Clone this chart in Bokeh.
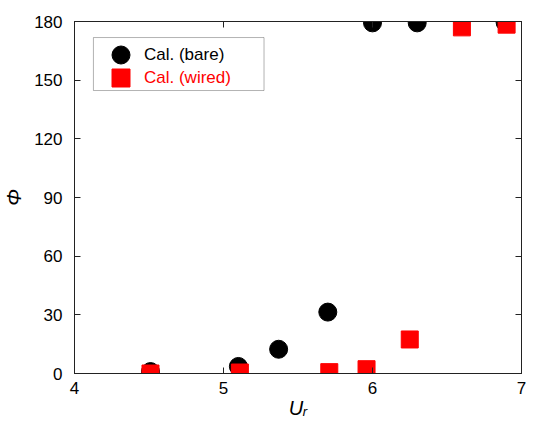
from bokeh.plotting import figure
from bokeh.models import (Range1d, FixedTicker, LinearAxis, Legend, LegendItem,
                          BoxAnnotation, CustomJSTickFormatter)
from bokeh.embed import file_html
from bokeh.resources import INLINE

# data
bare_x = [4.51, 5.10, 5.37, 5.70, 6.00, 6.30, 6.89]
bare_y = [1.0, 3.6, 12.4, 31.4, 179.3, 179.3, 179.5]
wired_x = [4.51, 5.11, 5.71, 5.96, 6.25, 6.60, 6.90]
wired_y = [0.0, 0.5, 0.7, 2.2, 17.4, 177.0, 178.4]
x_ticks = [4, 5, 6, 7]
y_ticks = [0, 30, 60, 90, 120, 150, 180]
bare_label = "Cal. (bare)"
wired_label = "Cal. (wired)"
x_title = "Uᵣ"
y_title = "Φ"

FONT = "Liberation Sans"

p = figure(width=533, height=427, output_backend="svg", toolbar_location=None,
           x_range=Range1d(4, 7), y_range=Range1d(0, 180),
           min_border_left=73, min_border_right=12, min_border_top=21,
           min_border_bottom=54)
p.xgrid.visible = False
p.ygrid.visible = False
p.outline_line_color = "#222222"
p.background_fill_color = "white"
p.border_fill_color = "white"

def style_axis(ax, ticks, labels=True):
    ax.ticker = FixedTicker(ticks=ticks)
    ax.major_tick_in = 6
    ax.major_tick_out = 0
    ax.minor_tick_line_color = None
    ax.axis_line_color = "#222222"
    ax.major_tick_line_color = "#222222"
    ax.major_label_text_font = FONT
    ax.major_label_text_font_size = "17px"
    ax.major_label_text_color = "black"
    ax.major_label_standoff = 8 if labels else 0
    if not labels:
        ax.formatter = CustomJSTickFormatter(code="return ''")

style_axis(p.xaxis[0], x_ticks)
style_axis(p.yaxis[0], y_ticks)
p.yaxis[0].major_label_standoff = 12

xa = p.xaxis[0]
xa.axis_label = x_title
xa.axis_label_text_font = FONT
xa.axis_label_text_font_style = "italic"
xa.axis_label_text_font_size = "20px"
xa.axis_label_text_color = "black"
xa.axis_label_standoff = 0

ya = p.yaxis[0]
ya.axis_label = y_title
ya.axis_label_text_font = FONT
ya.axis_label_text_font_style = "italic"
ya.axis_label_text_font_size = "20px"
ya.axis_label_text_color = "black"
ya.axis_label_standoff = 6

top = LinearAxis()
style_axis(top, x_ticks, labels=False)
p.add_layout(top, "above")
right = LinearAxis()
style_axis(right, y_ticks, labels=False)
p.add_layout(right, "right")

rb = p.scatter(bare_x, bare_y, marker="circle", size=18, fill_color="black",
               line_color="black")
rw = p.scatter(wired_x, wired_y, marker="square", size=17, fill_color="#ff0000",
               line_color="#ff0000")

# legend box
p.add_layout(BoxAnnotation(left=4.127, right=5.272, top=171.8, bottom=144.7,
                           fill_alpha=0, line_color="black", line_width=1))

def mk_legend(item, color, loc):
    lg = Legend(items=[item], location=loc, border_line_color=None,
                background_fill_alpha=0, padding=0, margin=0, spacing=0,
                glyph_width=45, glyph_height=45, label_height=45,
                label_standoff=1, label_text_font=FONT,
                label_text_font_size="17px", label_text_color=color)
    p.add_layout(lg, "center")

mk_legend(LegendItem(label=bare_label, renderers=[rb]), "black", (24, 296))
mk_legend(LegendItem(label=wired_label, renderers=[rw]), "#ff0000", (24, 273))

open("out.html", "w").write(file_html(p, INLINE))
